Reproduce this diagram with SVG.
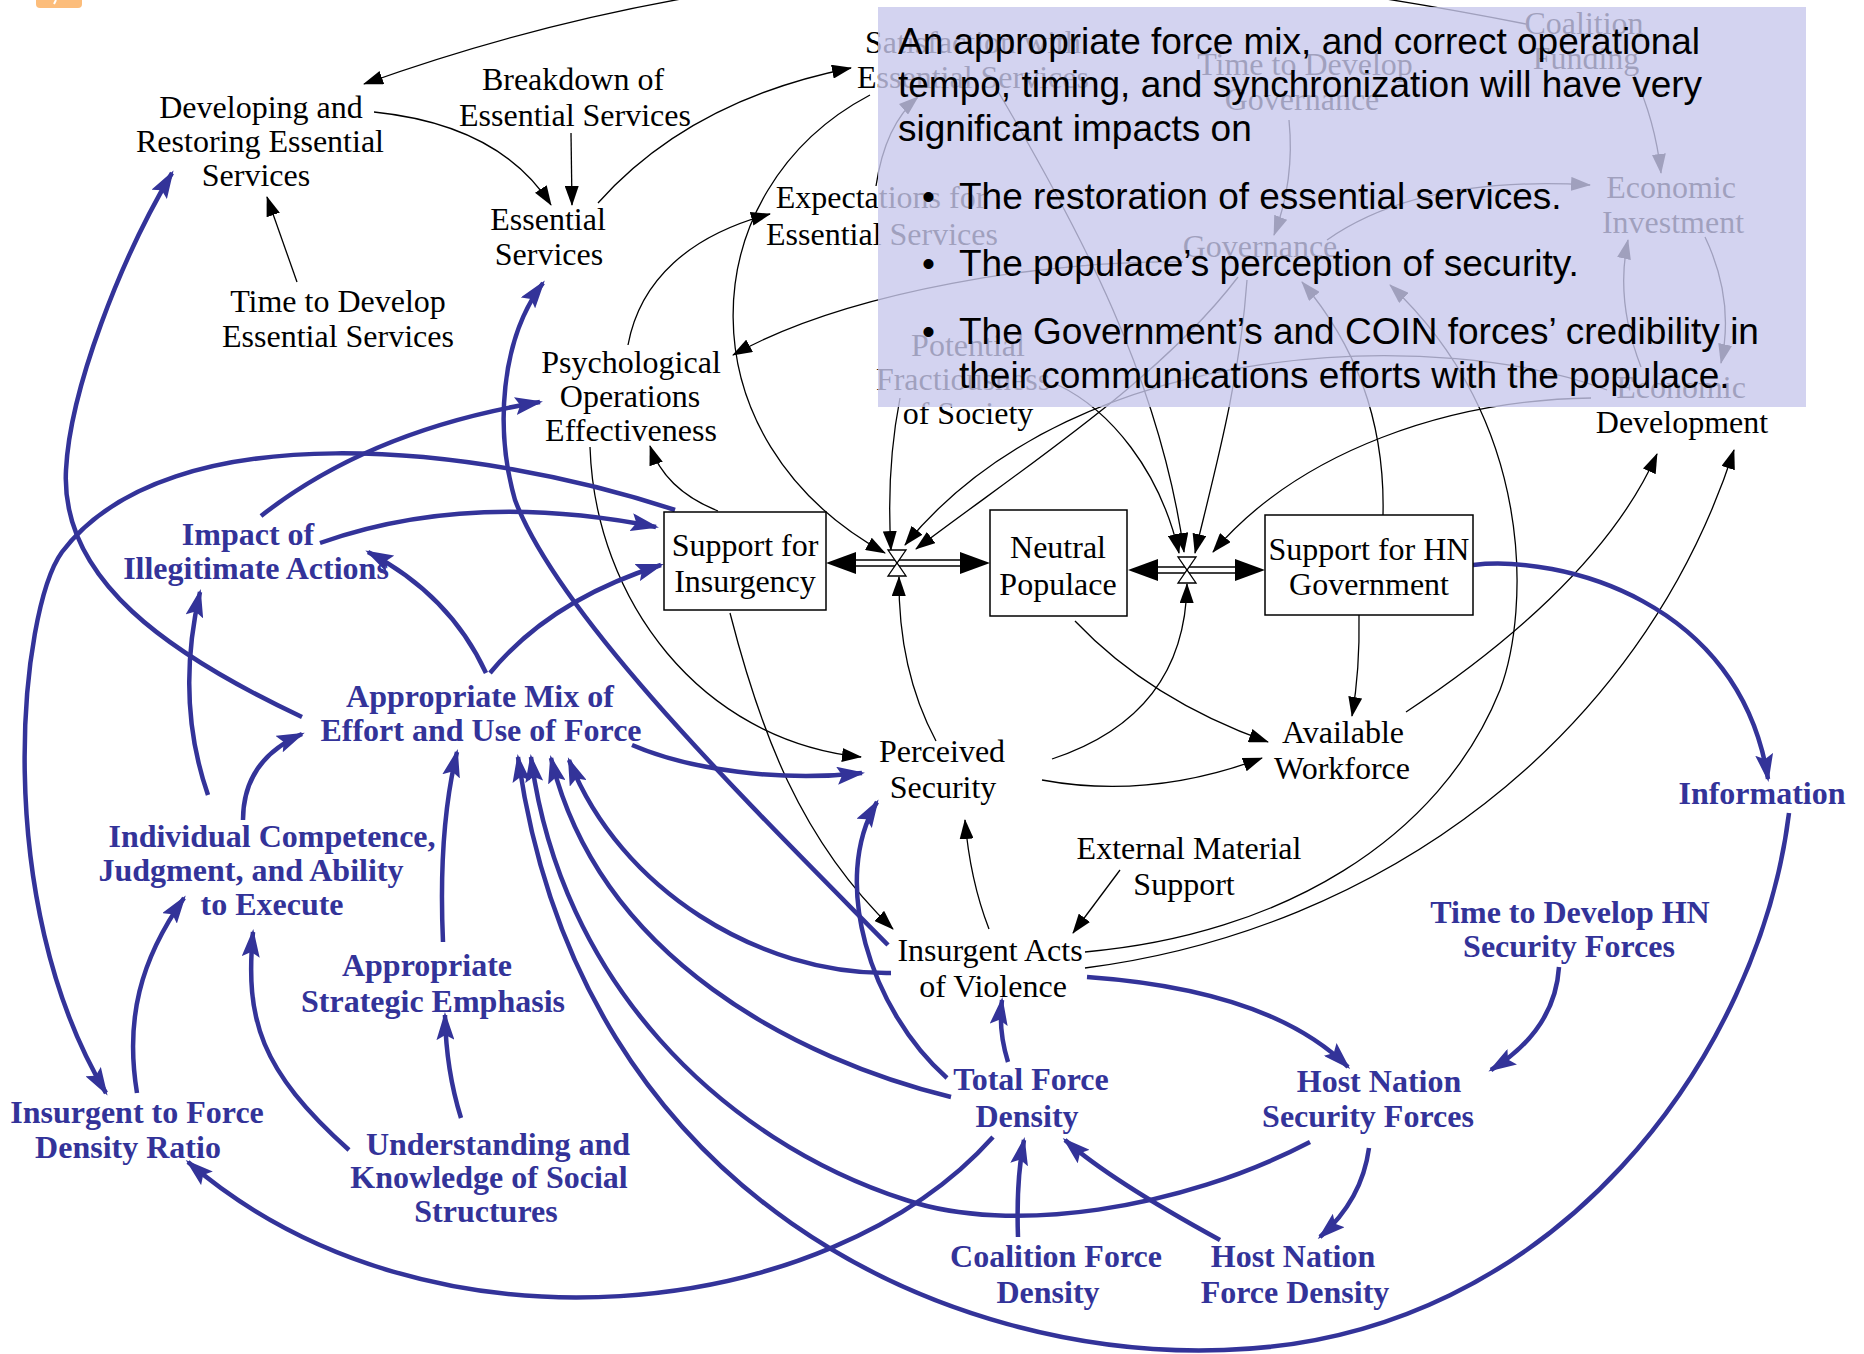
<svg xmlns="http://www.w3.org/2000/svg" width="1864" height="1354" viewBox="0 0 1864 1354">
<defs>
<style>
.s{font-family:"Liberation Serif","Times New Roman",serif;font-size:32px;text-anchor:middle;fill:#000}
.u{font-family:"Liberation Serif","Times New Roman",serif;font-size:32px;font-weight:bold;text-anchor:middle;fill:#333399}
.k{fill:none;stroke:#000;stroke-width:1.3;marker-end:url(#ab)}
.c{fill:none;stroke:#333399;stroke-width:4.5;marker-end:url(#au)}
.box{fill:#fff;stroke:#000;stroke-width:1.5}
.pipe{fill:none;stroke:#000;stroke-width:1.3}
.valve{fill:#fff;stroke:#000;stroke-width:1.3}
.ov{font-family:"Liberation Sans",Arial,sans-serif;font-size:37px;fill:#000}
</style>
<marker id="ab" viewBox="0 0 20 14" markerWidth="20" markerHeight="14" refX="19" refY="7" orient="auto" markerUnits="userSpaceOnUse"><path d="M0,0 L20,7 L0,14 z" fill="#000"/></marker>
<marker id="au" viewBox="0 0 28 18" markerWidth="28" markerHeight="18" refX="25" refY="9" orient="auto" markerUnits="userSpaceOnUse"><path d="M0,0 L28,9 L0,18 L5,9 z" fill="#333399"/></marker>
</defs>
<rect width="1864" height="1354" fill="#fff"/>
<g id="corner-mark"><rect x="36" y="-12" width="46" height="20" rx="4" fill="#fcbd7b"/><path d="M56,0 L54,4" stroke="#fff" stroke-width="2"/></g>

<g id="connectors">
<!-- black causal links -->
<path class="k" d="M1526,24 C1250,-30 850,-90 364,84"/>
<path class="k" d="M374,112 Q500,125 551,205"/>
<path class="k" d="M571,133 L572,205"/>
<path class="k" d="M598,203 Q690,100 851,68"/>
<path class="k" d="M297,282 Q282,240 267,197"/>
<path class="k" d="M870,95 C690,190 680,440 885,553"/>
<path class="k" d="M628,345 C640,280 690,235 770,214"/>
<path class="k" d="M876,186 Q885,125 918,97"/>
<path class="k" d="M1183,262 C1050,260 850,290 733,355"/>
<path class="k" d="M1289,120 Q1295,180 1274,235"/>
<path class="k" d="M1327,240 Q1420,175 1590,185"/>
<path class="k" d="M1634,75 Q1655,120 1661,173"/>
<path class="k" d="M1705,237 Q1735,300 1721,363"/>
<path class="k" d="M1641,367 Q1615,300 1628,240"/>
<path class="k" d="M1247,280 C1240,380 1215,470 1195,553"/>
<path class="k" d="M1238,277 C1160,380 1020,470 916,549"/>
<path class="k" d="M1607,390 C1450,330 1080,330 905,545"/>
<path class="k" d="M1591,398 C1450,400 1300,450 1213,552"/>
<path class="k" d="M996,88 C1080,230 1160,380 1184,552"/>
<path class="k" d="M1058,385 C1110,410 1160,470 1179,553"/>
<path class="k" d="M900,398 Q886,470 891,550"/>
<path class="k" d="M1085,952 C1280,935 1440,840 1500,690 C1530,610 1535,420 1390,285"/>
<path class="k" d="M1085,968 C1380,930 1640,740 1734,450"/>
<path class="k" d="M1383,515 C1385,430 1360,350 1302,282"/>
<path class="k" d="M718,511 Q665,490 650,446"/>
<path class="k" d="M730,613 C760,730 800,840 893,929"/>
<path class="k" d="M590,447 C595,600 700,740 861,757"/>
<path class="k" d="M936,741 Q898,670 899,577"/>
<path class="k" d="M1052,759 Q1185,715 1187,584"/>
<path class="k" d="M1042,780 Q1150,800 1262,758"/>
<path class="k" d="M1075,621 Q1150,700 1268,742"/>
<path class="k" d="M1359,615 Q1360,670 1352,716"/>
<path class="k" d="M1406,712 C1500,650 1610,560 1657,454"/>
<path class="k" d="M989,929 Q970,880 965,820"/>
<path class="k" d="M1120,870 L1073,933"/>
<!-- blue causal links -->
<path class="c" d="M1473,565 C1560,555 1740,600 1768,779"/>
<path class="c" d="M1789,813 C1760,1050 1560,1340 1224,1350 C950,1360 580,1200 518,757"/>
<path class="c" d="M1310,1142 C1180,1210 1010,1235 906,1200 C720,1140 560,980 531,757"/>
<path class="c" d="M951,1097 C800,1060 600,960 551,758"/>
<path class="c" d="M891,973 C760,975 620,890 569,760"/>
<path class="c" d="M632,745 C690,770 780,782 862,773"/>
<path class="c" d="M947,1078 C870,1010 830,880 877,802"/>
<path class="c" d="M1008,1062 Q998,1030 1002,1000"/>
<path class="c" d="M1087,977 Q1270,990 1348,1067"/>
<path class="c" d="M1559,967 Q1555,1030 1491,1070"/>
<path class="c" d="M1369,1148 Q1362,1200 1320,1237"/>
<path class="c" d="M1220,1240 Q1110,1180 1065,1140"/>
<path class="c" d="M1018,1237 Q1016,1180 1024,1140"/>
<path class="c" d="M993,1137 C830,1320 430,1370 188,1162"/>
<path class="c" d="M888,945 C760,815 560,620 515,500 C495,430 500,340 543,283"/>
<path class="c" d="M302,717 C170,655 60,580 66,470 C70,390 120,260 172,173"/>
<path class="c" d="M486,673 Q450,595 368,552"/>
<path class="c" d="M490,673 Q550,600 661,565"/>
<path class="c" d="M320,543 Q470,490 656,527"/>
<path class="c" d="M261,516 Q370,430 540,402"/>
<path class="c" d="M675,510 C480,445 170,410 62,552 C20,610 -10,900 106,1093"/>
<path class="c" d="M208,795 Q175,700 200,592"/>
<path class="c" d="M243,820 Q243,760 302,734"/>
<path class="c" d="M443,942 Q438,830 457,752"/>
<path class="c" d="M461,1118 Q446,1070 445,1015"/>
<path class="c" d="M349,1150 C260,1070 245,1020 253,932"/>
<path class="c" d="M137,1093 C125,1020 140,960 184,898"/>
</g>

<g id="flow-left">
<path class="pipe" d="M850,560 L965,560 M850,566 L965,566"/>
<polygon points="826,563 856,552 856,574" fill="#000"/>
<polygon points="990,563 960,552 960,574" fill="#000"/>
<polygon class="valve" points="888,550 906,550 897,563"/>
<polygon class="valve" points="888,576 906,576 897,563"/>
</g>
<g id="flow-right">
<path class="pipe" d="M1152,567 L1240,567 M1152,573 L1240,573"/>
<polygon points="1128,570 1158,559 1158,581" fill="#000"/>
<polygon points="1265,570 1235,559 1235,581" fill="#000"/>
<polygon class="valve" points="1178,557 1196,557 1187,570"/>
<polygon class="valve" points="1178,583 1196,583 1187,570"/>
</g>

<g id="support-for-insurgency"><rect class="box" x="664" y="512" width="162" height="98"/><text class="s"><tspan x="745" y="556">Support for</tspan><tspan x="745" y="592">Insurgency</tspan></text></g>
<g id="neutral-populace"><rect class="box" x="990" y="510" width="137" height="106"/><text class="s"><tspan x="1058" y="558">Neutral</tspan><tspan x="1058" y="595">Populace</tspan></text></g>
<g id="support-for-hn"><rect class="box" x="1265" y="515" width="208" height="100"/><text class="s"><tspan x="1369" y="560">Support for HN</tspan><tspan x="1369" y="595">Government</tspan></text></g>

<g id="developing-restoring"><text class="s"><tspan x="261" y="118">Developing and</tspan><tspan x="260" y="152">Restoring Essential</tspan><tspan x="256" y="186">Services</tspan></text></g>
<g id="breakdown"><text class="s"><tspan x="573" y="90">Breakdown of</tspan><tspan x="575" y="126">Essential Services</tspan></text></g>
<g id="essential-services"><text class="s"><tspan x="548" y="230">Essential</tspan><tspan x="549" y="265">Services</tspan></text></g>
<g id="time-develop-es"><text class="s"><tspan x="338" y="312">Time to Develop</tspan><tspan x="338" y="347">Essential Services</tspan></text></g>
<g id="psyop"><text class="s"><tspan x="631" y="373">Psychological</tspan><tspan x="630" y="407">Operations</tspan><tspan x="631" y="441">Effectiveness</tspan></text></g>
<g id="satisfaction"><text class="s"><tspan x="973" y="53">Satisfaction with</tspan><tspan x="973" y="88">Essential Services</tspan></text></g>
<g id="expectations"><text class="s"><tspan x="881" y="208">Expectations for</tspan><tspan x="882" y="245">Essential Services</tspan></text></g>
<g id="fractiousness"><text class="s"><tspan x="968" y="356">Potential</tspan><tspan x="963" y="390">Fractiousness</tspan><tspan x="968" y="424">of Society</tspan></text></g>
<g id="time-develop-gov"><text class="s"><tspan x="1305" y="75">Time to Develop</tspan><tspan x="1302" y="110">Governance</tspan></text></g>
<g id="coalition-funding"><text class="s"><tspan x="1584" y="34">Coalition</tspan><tspan x="1586" y="69">Funding</tspan></text></g>
<g id="economic-investment"><text class="s"><tspan x="1671" y="198">Economic</tspan><tspan x="1673" y="233">Investment</tspan></text></g>
<g id="governance"><text class="s" x="1260" y="257">Governance</text></g>
<g id="economic-development"><text class="s"><tspan x="1681" y="398">Economic</tspan><tspan x="1682" y="433">Development</tspan></text></g>
<g id="perceived-security"><text class="s"><tspan x="942" y="762">Perceived</tspan><tspan x="943" y="798">Security</tspan></text></g>
<g id="available-workforce"><text class="s"><tspan x="1343" y="743">Available</tspan><tspan x="1342" y="779">Workforce</tspan></text></g>
<g id="external-material"><text class="s"><tspan x="1189" y="859">External Material</tspan><tspan x="1184" y="895">Support</tspan></text></g>
<g id="insurgent-acts"><text class="s"><tspan x="990" y="961">Insurgent Acts</tspan><tspan x="993" y="997">of Violence</tspan></text></g>

<g id="impact-illegitimate"><text class="u"><tspan x="248" y="545">Impact of</tspan><tspan x="256" y="579">Illegitimate Actions</tspan></text></g>
<g id="appropriate-mix"><text class="u"><tspan x="480" y="707">Appropriate Mix of</tspan><tspan x="481" y="741">Effort and Use of Force</tspan></text></g>
<g id="individual-competence"><text class="u"><tspan x="272" y="847">Individual Competence,</tspan><tspan x="251" y="881">Judgment, and Ability</tspan><tspan x="272" y="915">to Execute</tspan></text></g>
<g id="strategic-emphasis"><text class="u"><tspan x="427" y="976">Appropriate</tspan><tspan x="433" y="1012">Strategic Emphasis</tspan></text></g>
<g id="force-density-ratio"><text class="u"><tspan x="137" y="1123">Insurgent to Force</tspan><tspan x="128" y="1158">Density Ratio</tspan></text></g>
<g id="understanding"><text class="u"><tspan x="498" y="1155">Understanding and</tspan><tspan x="489" y="1188">Knowledge of Social</tspan><tspan x="486" y="1222">Structures</tspan></text></g>
<g id="total-force-density"><text class="u"><tspan x="1031" y="1090">Total Force</tspan><tspan x="1027" y="1127">Density</tspan></text></g>
<g id="coalition-force-density"><text class="u"><tspan x="1056" y="1267">Coalition Force</tspan><tspan x="1048" y="1303">Density</tspan></text></g>
<g id="hn-force-density"><text class="u"><tspan x="1293" y="1267">Host Nation</tspan><tspan x="1295" y="1303">Force Density</tspan></text></g>
<g id="hn-security-forces"><text class="u"><tspan x="1379" y="1092">Host Nation</tspan><tspan x="1368" y="1127">Security Forces</tspan></text></g>
<g id="time-develop-hnsf"><text class="u"><tspan x="1570" y="923">Time to Develop HN</tspan><tspan x="1569" y="957">Security Forces</tspan></text></g>
<g id="information"><text class="u" x="1762" y="804">Information</text></g>

<g id="callout">
<rect x="878" y="7" width="928" height="400" fill="rgb(200,200,236)" fill-opacity="0.8"/>
<text class="ov"><tspan x="898" y="54">An appropriate force mix, and correct operational</tspan><tspan x="898" y="97">tempo, timing, and synchronization will have very</tspan><tspan x="898" y="141">significant impacts on</tspan></text>
<text class="ov"><tspan x="922" y="209">•</tspan><tspan x="959" y="209">The restoration of essential services.</tspan></text>
<text class="ov"><tspan x="922" y="276">•</tspan><tspan x="959" y="276">The populace’s perception of security.</tspan></text>
<text class="ov"><tspan x="922" y="344">•</tspan><tspan x="959" y="344">The Government’s and COIN forces’ credibility in</tspan><tspan x="959" y="388">their communications efforts with the populace.</tspan></text>
</g>
</svg>
